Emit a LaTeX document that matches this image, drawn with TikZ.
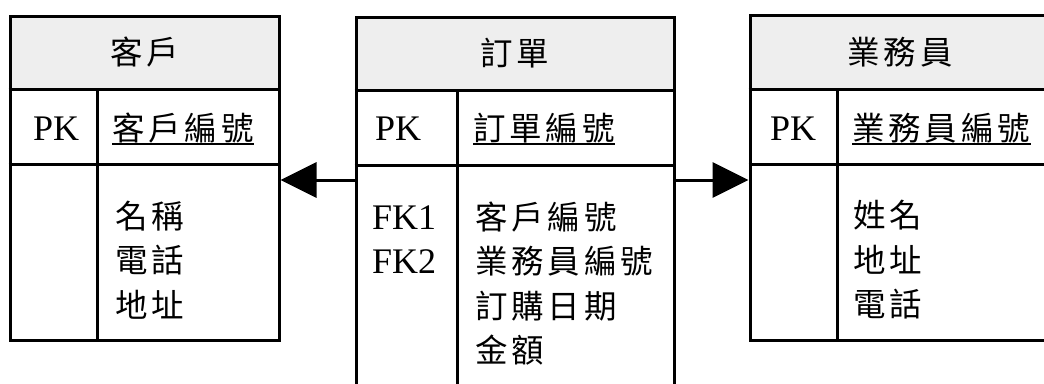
\documentclass[tikz,border=0pt]{standalone}
\usepackage{fontspec}
\setmainfont{Liberation Serif}
\newfontfamily\cjk[LetterSpace=12]{Noto Sans CJK TC}
\usetikzlibrary{arrows.meta}
\definecolor{headfill}{HTML}{EEEEEE}
\tikzset{
  tbl/.style={draw, line width=3pt, inner sep=0pt},
  sep/.style={line width=3pt},
  lat/.style={anchor=west, inner sep=0pt, align=left, font={\fontsize{36}{44.5}\selectfont}},
  cj/.style={anchor=west, inner sep=0pt, align=left, font={\cjk\fontsize{32.5}{44.5}\selectfont}},
  head/.style={anchor=center, inner sep=0pt, font={\cjk\fontsize{32.5}{44.5}\selectfont}},
  ul/.style={line width=2pt},
  rel/.style={line width=3pt, -{Triangle[length=36pt,width=35pt]}}
}
\begin{document}
\begin{tikzpicture}[x=1pt,y=-1pt]
\useasboundingbox (0,0) rectangle (1044,383);
\clip (0,0) rectangle (1044,383);
% header fills
\fill[headfill] (10,16) rectangle (279,89);
\fill[headfill] (356,17) rectangle (674,90);
\fill[headfill] (750,15) rectangle (1050,89);
% table outlines
\node[tbl, minimum width=269pt, minimum height=324pt] (cust) at (144.5,178) {};
\node[tbl, minimum width=318pt, minimum height=383pt] (ord) at (515,208.5) {};
\node[tbl, minimum width=300pt, minimum height=325pt] (emp) at (900,177.5) {};
% inner lines
\draw[sep] (cust.west |- 0,89) -- (cust.east |- 0,89);
\draw[sep] (cust.west |- 0,164) -- (cust.east |- 0,164);
\draw[sep] (97,89) -- (cust.south -| 97,0);
\draw[sep] (ord.west |- 0,90) -- (ord.east |- 0,90);
\draw[sep] (ord.west |- 0,165) -- (ord.east |- 0,165);
\draw[sep] (457,90) -- (ord.south -| 457,0);
\draw[sep] (emp.west |- 0,89) -- (emp.east |- 0,89);
\draw[sep] (emp.west |- 0,164) -- (emp.east |- 0,164);
\draw[sep] (837,89) -- (emp.south -| 837,0);
% customer
\node[head] (custh) at (144.5,52) {客戶};
\node[lat] (custpk) at (33,129) {PK};
\node[cj] (custid) at (112,128) {客戶編號};
\draw[ul] ([yshift=-1pt]custid.south west) -- ([yshift=-1pt]custid.south east);
\node[cj] (custat) at (115,260) {名稱\\電話\\地址};
% order
\node[head] (ordh) at (515,53) {訂單};
\node[lat] (ordpk) at (375,129) {PK};
\node[cj] (ordid) at (473,128) {訂單編號};
\draw[ul] ([yshift=-1pt]ordid.south west) -- ([yshift=-1pt]ordid.south east);
\node[lat] (ordfk) at (372,239.5) {FK1\\FK2};
\node[cj] (ordat) at (475,283.5) {客戶編號\\業務員編號\\訂購日期\\金額};
% employee
\node[head] (emph) at (900,52) {業務員};
\node[lat] (emppk) at (770,129) {PK};
\node[cj] (empid) at (852,128) {業務員編號};
\draw[ul] ([yshift=-1pt]empid.south west) -- ([yshift=-1pt]empid.south east);
\node[cj] (empat) at (853,260) {姓名\\地址\\電話};
% relationships
\draw[rel] (ord.west |- 0,180) -- (cust.east |- 0,180);
\draw[rel] (ord.east |- 0,180) -- (emp.west |- 0,180);
\end{tikzpicture}
\end{document}
